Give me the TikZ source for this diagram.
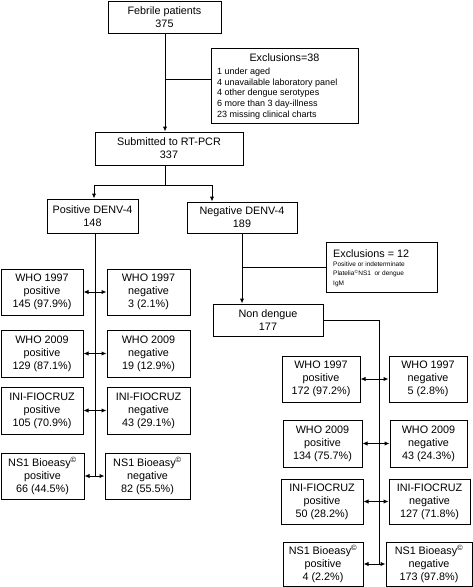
\documentclass[tikz,border=0pt]{standalone}
\usepackage{fontspec}
\setmainfont{Liberation Sans}
\usetikzlibrary{arrows.meta,calc}
\newcommand\mainfs{\fontsize{10.8}{13}\selectfont}
\newcommand\listfs{\fontsize{9}{10.8}\selectfont}
\newcommand\tinyfs{\fontsize{6.5}{9.5}\selectfont}
\newcommand\cpy{\textsuperscript{\textcopyright}}
\newcommand\mybox[6]{%
  \node[box, minimum width={(#4-#2)*1pt}, minimum height={(#5-#3)*1pt}] (#1)
    at ({(#2+#4)/2*1pt},{-(#3+#5)/2*1pt}) {#6};}
\begin{document}
\begin{tikzpicture}[
  box/.style={draw, line width=1pt, inner sep=0pt, align=center, font=\mainfs},
  conn/.style={line width=1pt},
  arr/.style={conn, -{Latex[length=5pt,width=4.5pt]}},
  darr/.style={conn, {Latex[length=5pt,width=4.5pt]}-{Latex[length=5pt,width=4.5pt]}},
  lbl/.style={inner sep=0pt, anchor=base west},
  blk/.style={inner sep=0pt, anchor=north west, align=left}
]
\useasboundingbox (0,0) rectangle (473pt,-587pt);

% top part
\mybox{feb}{108}{1}{221}{33}{Febrile patients\\375}
\mybox{excl1}{211}{48}{358}{123}{}
\node[inner sep=0pt, anchor=base, font=\mainfs] (e1h) at ($(excl1.north)+(0,-14pt)$) {Exclusions=38};
\node[blk, font=\listfs] (e1l) at (217pt,-67.5pt)
  {1 under aged\\4 unavailable laboratory panel\\4 other dengue serotypes\\6 more than 3 day-illness\\23 missing clinical charts};
\mybox{sub}{95}{132}{243}{165}{Submitted to RT-PCR\\337}

\mybox{pos}{47}{199}{138}{233}{Positive DENV-4\\148}
\mybox{neg}{187}{202}{297}{233}{Negative DENV-4\\189}
\mybox{excl2}{326}{242}{437}{292}{}
\node[lbl, font=\mainfs] (e2h) at (333pt,-257pt) {Exclusions = 12};
\node[blk, font=\tinyfs] (e2l) at (333pt,-261.5pt)
  {Positive or indeterminate\\Platelia\cpy NS1\ \ or dengue\\IgM};
\mybox{nond}{213}{304}{323}{336}{Non dengue\\177}

% left column
\mybox{L1p}{1}{269}{83}{315}{WHO 1997\\positive\\145 (97.9\%)}
\mybox{L1n}{107}{269}{190}{315}{WHO 1997\\negative\\3 (2.1\%)}
\mybox{L2p}{1}{330}{83}{377}{WHO 2009\\positive\\129 (87.1\%)}
\mybox{L2n}{107}{330}{190}{377}{WHO 2009\\negative\\19 (12.9\%)}
\mybox{L3p}{1}{387}{83}{434}{INI-FIOCRUZ\\positive\\105 (70.9\%)}
\mybox{L3n}{107}{387}{190}{434}{INI-FIOCRUZ\\negative\\43 (29.1\%)}
\mybox{L4p}{1}{453}{84}{499}{NS1 Bioeasy\cpy\\positive\\66 (44.5\%)}
\mybox{L4n}{105}{453}{190}{499}{NS1 Bioeasy\cpy\\negative\\82 (55.5\%)}

% right column
\mybox{R1p}{282}{356}{360}{402}{WHO 1997\\positive\\172 (97.2\%)}
\mybox{R1n}{389}{356}{467}{402}{WHO 1997\\negative\\5 (2.8\%)}
\mybox{R2p}{283}{420}{362}{467}{WHO 2009\\positive\\134 (75.7\%)}
\mybox{R2n}{390}{420}{467}{467}{WHO 2009\\negative\\43 (24.3\%)}
\mybox{R3p}{281}{479}{363}{524}{INI-FIOCRUZ\\positive\\50 (28.2\%)}
\mybox{R3n}{389}{479}{470}{524}{INI-FIOCRUZ\\negative\\127 (71.8\%)}
\mybox{R4p}{283}{542}{363}{586}{NS1 Bioeasy\cpy\\positive\\4 (2.2\%)}
\mybox{R4n}{386}{542}{472}{586}{NS1 Bioeasy\cpy\\negative\\173 (97.8\%)}

% connectors top
\coordinate (t1) at (165pt,-33pt);
\coordinate (b1) at (165pt,-79pt);
\draw[arr] (t1) -- (t1 |- sub.north);
\draw[conn] (b1) -- (b1 -| excl1.west);
\coordinate (s1) at (165pt,-185pt);
\coordinate (j1) at (94pt,-185pt);
\coordinate (j2) at (212pt,-185pt);
\draw[conn] (s1 |- sub.south) -- (s1);
\draw[conn] (j1) -- (j2);
\draw[arr] (j1) -- (j1 |- pos.north);
\draw[arr] (j2) -- (j2 |- neg.north);

% negative branch
\draw[arr] (neg.south) -- (neg.south |- nond.north);
\draw[conn] (neg.south |- excl2.west) -- (excl2.west);
\coordinate (rv) at (379pt,-564pt);
\draw[conn] (nond.east) -| (rv);

% positive branch vertical
\coordinate (pv) at (95pt,-477pt);
\draw[conn] (pv |- pos.south) -- (pv);

% double arrows
\foreach \r in {L1,L2,L3,L4,R1,R2,R3,R4}{
  \draw[darr] (\r p.east) -- (\r n.west);
}
\end{tikzpicture}
\end{document}
